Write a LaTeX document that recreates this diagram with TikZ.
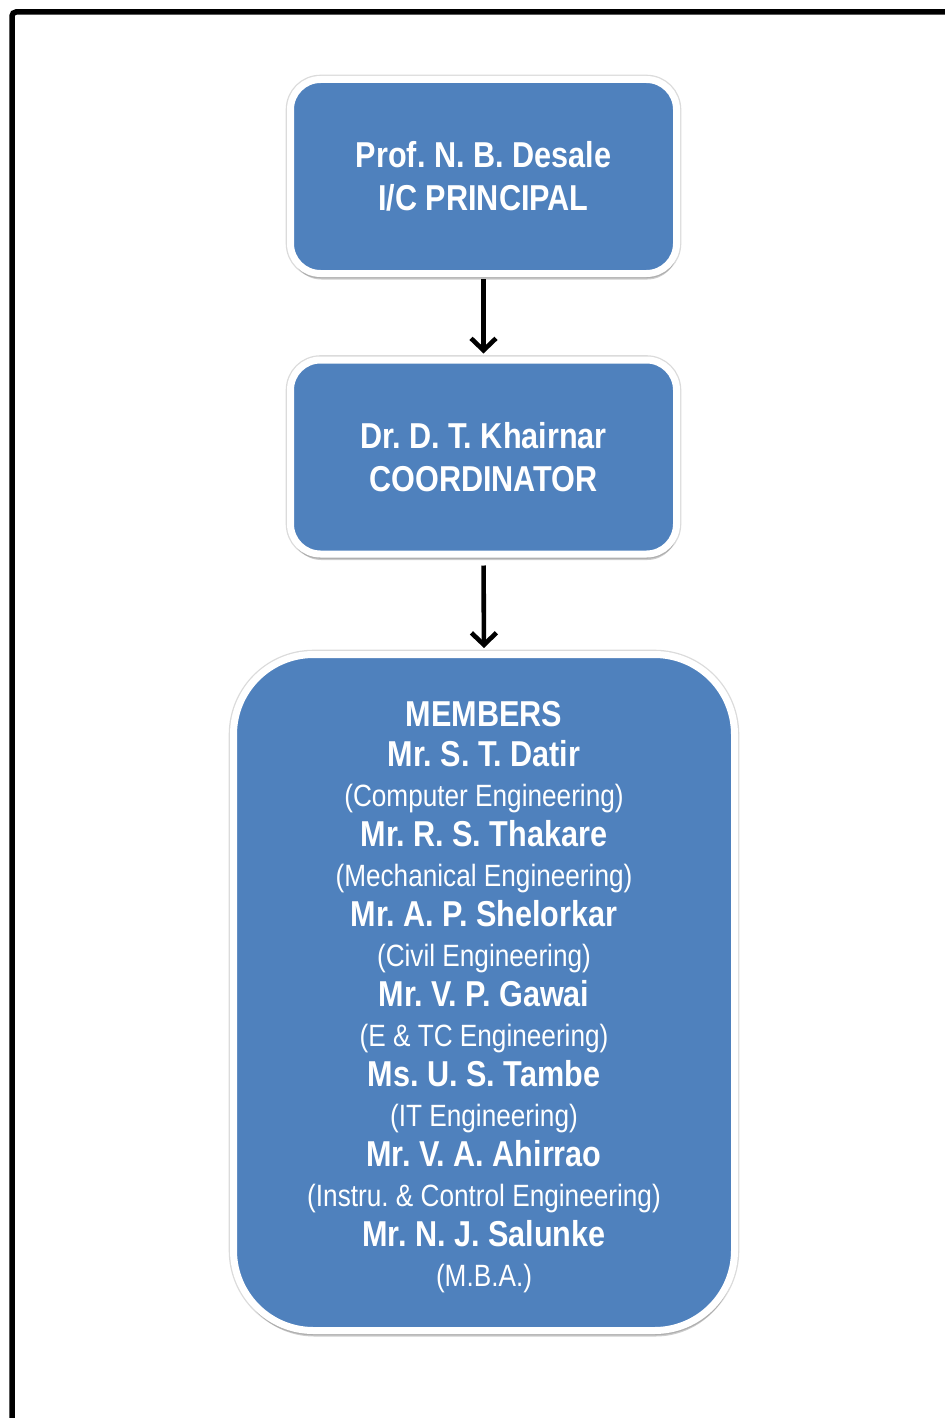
\documentclass[tikz,border=0pt]{standalone}
\usepackage{fontspec}
\setmainfont[FakeStretch=0.85]{Liberation Sans}
\usetikzlibrary{shadows,arrows.meta}
\definecolor{boxblue}{HTML}{4F81BD}
\newcommand\nmline[1]{{\bfseries\fontsize{18}{20}\selectfont #1}}
\begin{document}
\frenchspacing
\begin{tikzpicture}[x=0.5pt,y=-0.5pt,
  orgbox/.style={draw=white, line width=3.5pt, fill=boxblue, text=white,
    align=center, inner sep=0pt, rounded corners=15pt,
    preaction={draw=black!14, line width=4.8pt},
    drop shadow={shadow xshift=0.4pt, shadow yshift=-3pt, fill=black, opacity=0.2}},
  topbox/.style={orgbox, minimum width=193pt, minimum height=97pt,
    font=\bfseries\fontsize{18}{21.5}\selectfont},
  bigbox/.style={orgbox, minimum width=250.5pt, minimum height=338pt, rounded corners=40pt},
  membertext/.style={text=white, align=center, inner sep=0pt,
    font=\fontsize{15.4}{20}\selectfont},
  link/.style={line width=2.3pt, -{Straight Barb[length=6pt,width=12.5pt,line width=2.3pt]}},
  frame/.style={line width=2.75pt, rounded corners=2pt}]
\useasboundingbox (0,0) rectangle (945,1418);
\draw[frame] (12,1418) -- (12,12) -- (945,12);
\node[topbox] (b1) at (483.5,176.5) {Prof. N. B. Desale\\I/C PRINCIPAL};
\node[topbox] (b2) at (483.5,457) {Dr. D. T. Khairnar\\COORDINATOR};
\node[bigbox] (b3) at (484,992.5) {};
\node[membertext] (m3) at ([yshift=-2.5pt]b3.center) {\nmline{MEMBERS}\\
\nmline{Mr. S. T. Datir}\\
(Computer Engineering)\\
\nmline{Mr. R. S. Thakare}\\
(Mechanical Engineering)\\
\nmline{Mr. A. P. Shelorkar}\\
(Civil Engineering)\\
\nmline{Mr. V. P. Gawai}\\
(E \& TC Engineering)\\
\nmline{Ms. U. S. Tambe}\\
(IT Engineering)\\
\nmline{Mr. V. A. Ahirrao}\\
(Instru. \& Control Engineering)\\
\nmline{Mr. N. J. Salunke}\\
(M.B.A.)};
\draw[link, shorten <=1pt, shorten >=1.5pt] (b1.south) -- (b2.north);
\draw[link, shorten <=4pt, shorten >=1.5pt] (b2.south) -- (b3.north);
\end{tikzpicture}
\end{document}
